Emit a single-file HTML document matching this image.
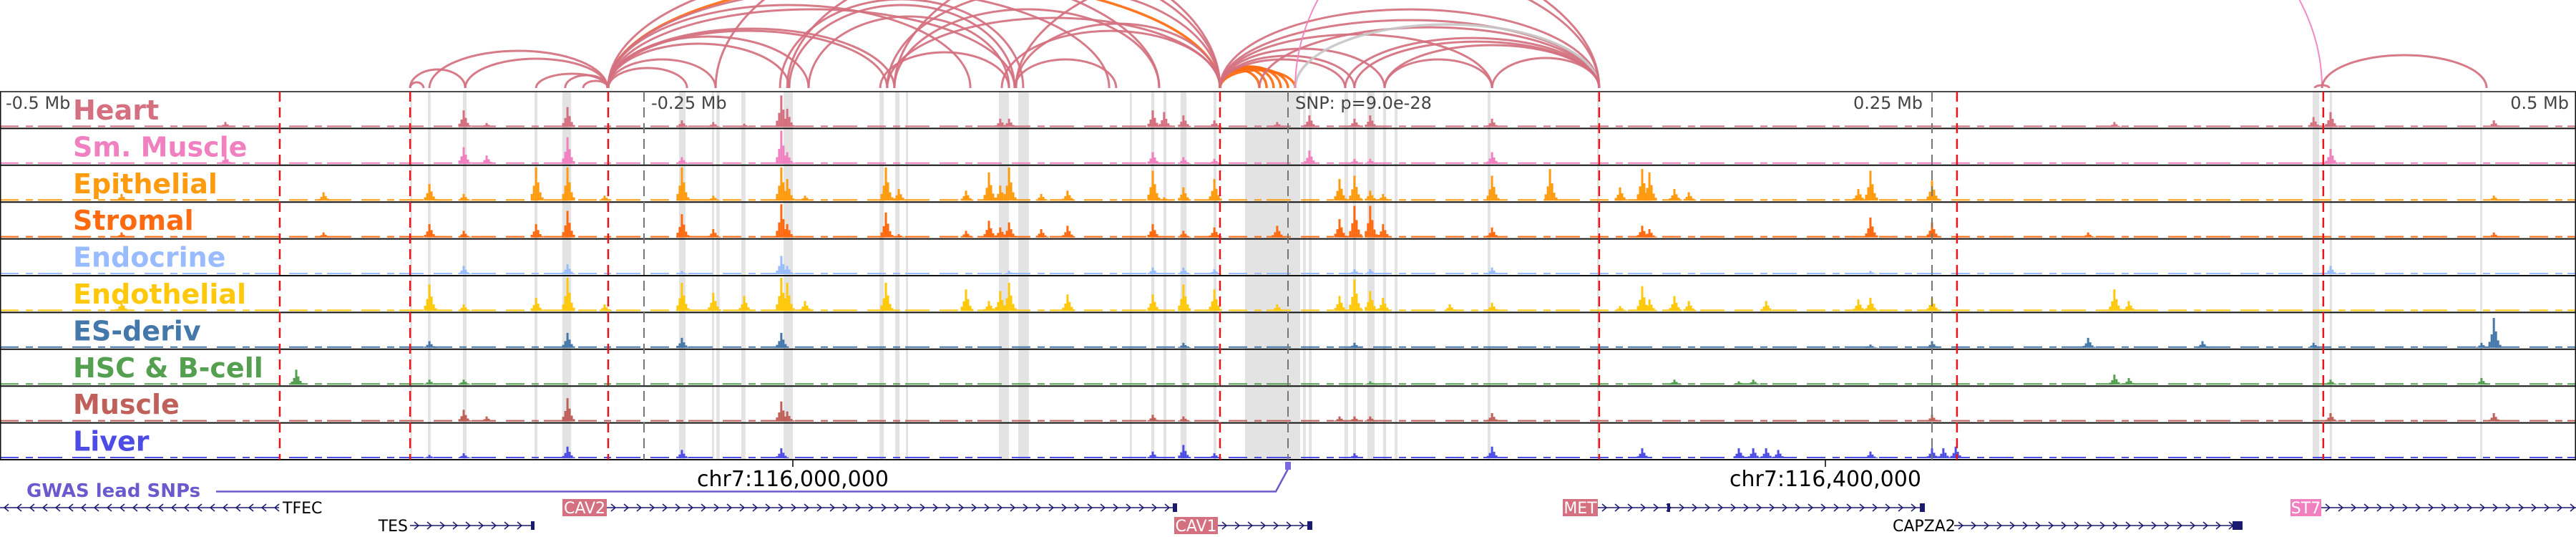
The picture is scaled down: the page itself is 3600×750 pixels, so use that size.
<!DOCTYPE html>
<html><head><meta charset="utf-8">
<style>
html,body{margin:0;padding:0;background:#fff;}
svg{display:block;font-family:"DejaVu Sans","Liberation Sans",sans-serif;}
</style></head>
<body>
<svg id="chart" width="3600" height="750" viewBox="0 0 3600 750" xmlns="http://www.w3.org/2000/svg">
<g id="bands"></g>
<g id="arcs"></g>
<g id="tracks"></g>
<g id="vlines"></g>
<g id="labels"></g>
<g id="bottom">
  <text x="8" y="152" font-size="24" fill="#444">-0.5 Mb</text>
  <text x="910" y="152" font-size="24" fill="#444">-0.25 Mb</text>
  <text x="1810" y="152" font-size="24" fill="#444">SNP: p=9.0e-28</text>
  <text x="2590" y="152" font-size="24" fill="#444">0.25 Mb</text>
  <text x="3590" y="152" font-size="24" fill="#444" text-anchor="end">0.5 Mb</text>
  <line x1="1108" y1="642" x2="1108" y2="652" stroke="#000" stroke-width="1.5"/>
  <line x1="2551" y1="642" x2="2551" y2="652" stroke="#000" stroke-width="1.5"/>
  <text x="1108" y="679" font-size="30" text-anchor="middle" fill="#000">chr7:116,000,000</text>
  <text x="2551" y="679" font-size="30" text-anchor="middle" fill="#000">chr7:116,400,000</text>
  <text x="37" y="694" font-size="26" font-weight="bold" fill="#6a5acd">GWAS lead SNPs</text>
  <polyline points="302,686.5 1783,686.5 1800,655" fill="none" stroke="#6a5acd" stroke-width="2.5"/>
  <rect x="1796" y="645" width="8" height="11" fill="#7a6add"/>
</g>
<g id="genes"></g>
</svg>
<script>
// ---------- data ----------
const trackNames = ["Heart","Sm. Muscle","Epithelial","Stromal","Endocrine","Endothelial","ES-deriv","HSC & B-cell","Muscle","Liver"];
const trackColors = ["#d4707f","#f080c0","#ff9b0f","#ff6a10","#99bbff","#ffc80a","#4477aa","#55a050","#c0605a","#4d4de6"];
const heart = [[-412.5,.15],[-320,.5],[-311.1,.12],[-279.7,.6],[-235.3,.2],[-223.1,.15],[-211.1,.1],[-196.7,.95],[-194.4,.55],[-111.7,.25],[-108.3,.25],[-52.5,.5],[-48.1,.45],[-40.6,.35],[-28.6,.2],[-4.2,.15],[8.3,.35],[25.8,.25],[31.9,.35],[79.2,.25],[320.8,.15],[398.1,.3],[404.7,.45],[468.1,.2]];
const smMuscle = [[-412.5,.25],[-320,.5],[-311.1,.25],[-279.7,.8],[-235.3,.2],[-196.7,1],[-194.4,.35],[-52.5,.35],[-40.6,.2],[-28.6,.15],[8.3,.4],[25.8,.15],[31.9,.15],[79.2,.35],[404.7,.45]];
const epithelial = [[-452.8,.2],[-374.4,.25],[-333.3,.5],[-320,.2],[-291.9,1],[-279.7,1],[-265.3,.15],[-235.3,1],[-223.1,.15],[-196.7,1],[-194.4,.65],[-187.5,.15],[-156.1,1],[-151.1,.35],[-125,.3],[-116.1,.85],[-111.7,.45],[-108.3,1],[-95.8,.2],[-85.6,.3],[-52.5,.9],[-48.1,.1],[-40.6,.4],[-28.6,.65],[20,.65],[25.8,.75],[31.9,.3],[36.9,.2],[79.2,.75],[101.7,.95],[128.9,.4],[137.5,.95],[140.3,.85],[150,.35],[155.6,.25],[221.4,.35],[226.1,.9],[250,.6],[468.1,.15]];
const stromal = [[-452.8,.15],[-374.4,.15],[-333.3,.4],[-320,.2],[-291.9,.4],[-279.7,.8],[-235.3,.7],[-223.1,.25],[-196.7,1],[-194.4,.4],[-156.1,.75],[-151.1,.1],[-125,.2],[-116.1,.5],[-111.7,.3],[-108.3,.45],[-95.8,.25],[-85.6,.35],[-52.5,.4],[-40.6,.2],[-28.6,.3],[-4.2,.35],[20,.55],[25.8,.95],[31.9,.95],[36.9,.4],[79.2,.3],[137.5,.35],[140.3,.25],[226.1,.6],[250,.45],[310.6,.15],[468.1,.15]];
const endocrine = [[-320,.25],[-279.7,.3],[-235.3,.1],[-196.7,.55],[-194.4,.25],[-108.3,.1],[-52.5,.2],[-40.6,.2],[-28.6,.15],[25.8,.15],[31.9,.15],[79.2,.2],[226.1,.1],[404.7,.25]];
const endothelial = [[-452.8,.3],[-333.3,.8],[-320,.2],[-291.9,.4],[-279.7,1],[-265.3,.2],[-235.3,.85],[-223.1,.55],[-211.1,.45],[-196.7,1],[-194.4,.85],[-187.5,.3],[-156.1,.85],[-125,.65],[-116.1,.3],[-111.7,.6],[-108.3,.85],[-85.6,.5],[-52.5,.5],[-40.6,.8],[-28.6,.65],[-4.2,.2],[20,.45],[25.8,.95],[31.9,.6],[36.9,.4],[62.8,.2],[79.2,.25],[128.9,.15],[137.5,.75],[140.3,.35],[150,.45],[155.6,.3],[185.6,.3],[221.4,.35],[226.1,.4],[250,.4],[320.8,.65],[326.4,.3]];
const esDeriv = [[-333.3,.2],[-279.7,.45],[-235.3,.3],[-196.7,.45],[-40.6,.15],[25.8,.15],[226.1,.1],[250,.2],[310.6,.3],[355,.2],[398.1,.15],[463.3,.15],[468.1,.9]];
const hscBcell = [[-385,.45],[-333.3,.15],[-320,.15],[31.9,.1],[150,.15],[175,.1],[180.6,.15],[320.8,.3],[326.4,.2],[404.7,.15],[463.3,.2]];
const muscle = [[-320,.35],[-311.1,.15],[-279.7,.7],[-196.7,.6],[-194.4,.3],[-52.5,.2],[-40.6,.15],[20,.15],[25.8,.15],[31.9,.15],[79.2,.25],[250,.2],[404.7,.25],[468.1,.25]];
const liver = [[-333.3,.1],[-320,.15],[-279.7,.35],[-235.3,.25],[-196.7,.3],[-52.5,.2],[-40.6,.4],[-28.6,.15],[25.8,.15],[79.2,.35],[137.5,.3],[175,.3],[180.6,.3],[185.6,.3],[190.3,.25],[226.1,.2],[250,.3],[254.4,.3],[259.2,.35]];
const trackData = [heart,smMuscle,epithelial,stromal,endocrine,endothelial,esDeriv,hscBcell,muscle,liver];

const bandStart = [-340.8,-333.9,-320.3,-292.5,-281.7,-236.4,-223.6,-221.9,-212.2,-195.8,-158.6,-152.5,-148.3,-112.2,-104.7,-61.4,-53.1,-48.3,-41.7,-28.9,-16.7,5.8,8.1,21.9,25.3,30.8,36.9,41.4,77.5,120,397.8,404.4,462.8];
const bandEnd   = [-340.0,-332.8,-318.9,-291.4,-278.3,-233.9,-222.8,-220.6,-210.6,-192.2,-156.9,-150.8,-147.5,-108.3,-100.6,-60.6,-51.9,-47.2,-39.4,-27.8,4.7,6.9,9.2,23.3,26.4,33.6,38.1,42.5,78.6,120.8,400.3,405.3,463.6];
const redLines = [-391.4,-340.8,-263.9,-26.4,120.8,259.7,401.9];
const grayLines = [-250,0,250];

const arcStart = [-340.8,-340.8,-333.3,-319.4,-291.9,-280.6,-273.6,-263.9,-263.9,-263.9,-263.9,-263.9,-263.9,-263.9,-263.9,-263.9,-263.9,-263.9,-193.6,-197.2,-186.1,-158.3,-152.8,-194.4,-222.2,-155.6,-105.6,-111.1,-106.1,-155.6,-26.4,-26.4,-26.4,-26.4,-26.4,-26.4,-26.4,-26.4,-26.4,-26.4,-26.4,-26.4,-11.1,2.8,22.2,25.8,37.5,37.5,79.2,-105.6,-152.8,2.8,401.4,398.6];
const arcEnd   = [-335.6,-319.4,-264.2,-264.2,-263.9,-263.9,-263.9,-26.4,-193.6,-186.1,-155.6,-106.1,-69.4,-50,-222.2,-233.3,-123.3,-152.8,-106.1,-102.8,-108.3,-108.3,-50,-26.4,-26.4,-26.4,-26.4,-26.4,-66.7,-26.4,-11.1,-8.3,-5.6,-2.8,0,2.8,120.8,79.2,37.5,25.8,22.2,120.8,120.8,120.8,120.8,120.8,120.8,79.2,120.8,120.8,120.8,401.4,465.3,404.2];
const arcHeight= [8,26,52,41,20,18,10,155,62,72,80,110,140,170,40,28,116,83,116,124,100,50,110,180,210,140,90,80,40,98,25,28,30,30,28,25,95,75,55,45,40,110,85,89,70,65,60,40,42,190,230,420,46,4];
const arcType  = [0,0,0,0,0,0,0,1,0,0,0,0,0,0,0,0,0,0,0,0,0,0,0,0,0,0,0,0,0,0,1,1,1,1,1,1,0,0,0,0,0,0,0,2,0,0,0,0,0,0,0,3,0,0];

// ---------- scales ----------
const NS = "http://www.w3.org/2000/svg";
const xScale = kb => 1800 + kb * 3.6;
const TOP = 128, TH = 51.4, NT = 10, ARC_BASE = 123;
const trackTop = i => TOP + i * TH;
const yScale = (i, v) => trackTop(i) + TH - 2 - v * (TH - 5);
function mk(tag, attrs, parent){const e=document.createElementNS(NS,tag);for(const k in attrs)e.setAttribute(k,attrs[k]);parent.appendChild(e);return e;}

// bands
const gB = document.getElementById('bands');
bandStart.forEach((s,i)=>{
  const x1 = xScale(s), x2 = xScale(bandEnd[i]);
  const r = mk('rect',{x:x1,y:TOP,width:Math.max(2,x2-x1),height:NT*TH,fill:'#e3e3e3'},gB);
  
  
});

// arcs
const gA = document.getElementById('arcs');
const arcColors = ['#d4707f','#ff6a10','#c8c8c8','#f080c0'];
arcStart.forEach((s,i)=>{
  const x1 = xScale(s), x2 = xScale(arcEnd[i]);
  const rx = Math.abs(x2-x1)/2, ry = arcHeight[i];
  const t = arcType[i];
  const p = mk('path',{d:`M${x1},${ARC_BASE} A${rx},${ry} 0 0 1 ${x2},${ARC_BASE}`,fill:'none',stroke:arcColors[t],'stroke-width':(t===0?3:(t===3?2:3.5)),'stroke-opacity':0.92},gA);
  
  
});

// tracks
const gT = document.getElementById('tracks');
trackData.forEach((peaks,i)=>{
  const g = mk('g',{},gT);
  
  
  const base = trackTop(i) + TH - 2;
  const bl = mk('line',{x1:0,y1:base-1,x2:3600,y2:base-1,stroke:trackColors[i],'stroke-width':2,'stroke-dasharray':'26 10 10 7 34 14'},g);
  
  
  peaks.forEach(pk=>{
    const cx = xScale(pk[0]);
    [[0,1],[-3,.45],[3,.55],[-6,.2],[6,.25],[9,.1]].forEach(o=>{
      const y = yScale(i, pk[1]*o[1]);
      const b = mk('rect',{x:cx+o[0]-1.5,y:y,width:3,height:base-y,fill:trackColors[i]},g);
      
      
    });
  });
  const sep = mk('line',{x1:0,y1:trackTop(i)+TH,x2:3600,y2:trackTop(i)+TH,stroke:'#111','stroke-width':2},g);
  
  
});
const frame = mk('rect',{x:0.75,y:TOP,width:3598.5,height:NT*TH,fill:'none',stroke:'#111','stroke-width':1.5},gT);



// vertical lines
const gV = document.getElementById('vlines');
grayLines.forEach(k=>{
  const l = mk('line',{x1:xScale(k),y1:TOP,x2:xScale(k),y2:TOP+NT*TH,stroke:'#777','stroke-width':2,'stroke-dasharray':'14 8'},gV);
  
  
});
redLines.forEach(k=>{
  const l = mk('line',{x1:xScale(k),y1:TOP,x2:xScale(k),y2:TOP+NT*TH,stroke:'#e8141c','stroke-width':2.5,'stroke-dasharray':'14 8'},gV);
  
  
});

// labels
const gL = document.getElementById('labels');
trackNames.forEach((n,i)=>{
  const t = mk('text',{x:102,y:trackTop(i)+39,'font-size':38,'font-weight':'bold',fill:trackColors[i]},gL);
  t.textContent = n;
  
  
});

// genes
const gG = document.getElementById('genes');
function chevrons(x1,x2,y,dir){
  let d='';
  for(let x=x1+6;x<x2-4;x+=18){
    d += dir>0 ? `M${x},${y-5} L${x+6},${y} L${x},${y+5} ` : `M${x+6},${y-5} L${x},${y} L${x+6},${y+5} `;
  }
  const p = mk('path',{d:d,fill:'none',stroke:'#1a1a6e','stroke-width':1.5},gG);
  
  
}
function gline(x1,x2,y){
  const l = mk('line',{x1:x1,y1:y,x2:x2,y2:y,stroke:'#1a1a6e','stroke-width':1.5},gG);
  
  
}
function gblock(x,y,w){
  const r = mk('rect',{x:x,y:y-6,width:w,height:12,fill:'#1a1a6e'},gG);
  
  
}
function gtext(x,y,s,anchor){
  const t = mk('text',{x:x,y:y+8,'font-size':22,fill:'#000','text-anchor':anchor||'start'},gG);
  t.textContent = s;
  
  
}
function gbox(x,y,w,s,color){
  const r = mk('rect',{x:x,y:y-12,width:w,height:24,fill:color},gG);
  
  
  const t = mk('text',{x:x+w/2,y:y+8,'font-size':22,fill:'#fff','text-anchor':'middle'},gG);
  t.textContent = s;
  
  
}
const R1 = 709, R2 = 734;
gline(0,390,R1); chevrons(0,390,R1,-1); gtext(395,R1,'TFEC');
gbox(786,R1,62,'CAV2','#d4707f'); gline(848,1645,R1); chevrons(848,1640,R1,1); gblock(1639,R1,6);
gtext(570,R2,'TES','end'); gline(573,746,R2); chevrons(573,740,R2,1); gblock(742,R2,5);
gbox(1641,R2,61,'CAV1','#d4707f'); gline(1702,1833,R2); chevrons(1702,1828,R2,1); gblock(1827,R2,7);
gbox(2184,R1,49,'MET','#d4707f'); gline(2233,2690,R1); chevrons(2233,2684,R1,1); gblock(2330,R1,4); gblock(2683,R1,7);
gtext(2645,R2,'CAPZA2'); gline(2731,3134,R2); chevrons(2731,3120,R2,1); gblock(3120,R2,14);
gbox(3201,R1,43,'ST7','#f080c0'); gline(3244,3600,R1); chevrons(3244,3600,R1,1);
</script>
</body></html>
